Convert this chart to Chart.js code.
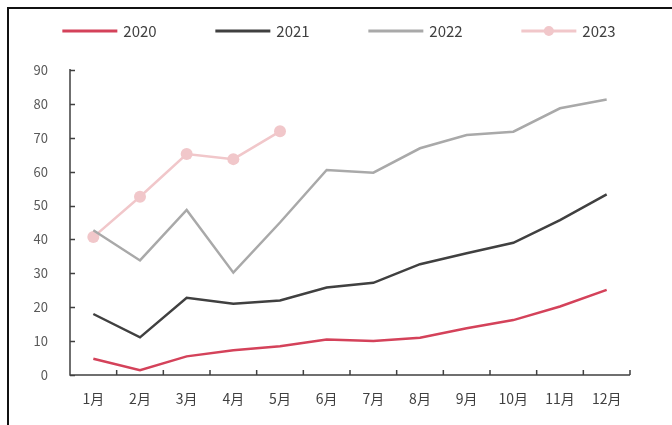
<!DOCTYPE html>
<html>
<head>
<meta charset="utf-8">
<script src="https://cdn.jsdelivr.net/npm/chart.js@4.4.0/dist/chart.umd.min.js"></script>
<style>
html,body{margin:0;padding:0;background:#fff;}
#wrap{position:relative;width:672px;height:425px;}
#frame{position:absolute;left:7px;top:7px;right:-10px;bottom:-10px;border-left:2px solid #111;border-top:2px solid #111;pointer-events:none;}
canvas{position:absolute;left:0;top:0;}
</style>
</head>
<body>
<div id="wrap"><canvas id="c" width="672" height="425"></canvas><div id="frame"></div></div>
<script>
const categories = ['1月','2月','3月','4月','5月','6月','7月','8月','9月','10月','11月','12月'];
const seriesNames = ['2020','2021','2022','2023'];
const s2020 = [4.8, 1.4, 5.5, 7.3, 8.5, 10.5, 10.0, 11.0, 13.8, 16.2, 20.2, 25.1];
const s2021 = [18.0, 11.1, 22.8, 21.0, 22.0, 25.8, 27.2, 32.7, 35.9, 39.0, 45.7, 53.3];
const s2022 = [42.7, 33.8, 48.7, 30.2, 45.0, 60.5, 59.7, 66.9, 70.8, 71.8, 78.7, 81.3];
const s2023 = [40.7, 52.6, 65.2, 63.7, 71.9];
const yTicks = [0,10,20,30,40,50,60,70,80,90];

const colors = ['#d4425a', '#404040', '#a9a9a9', '#f1c7ca'];
const FONT = '"Noto Sans CJK SC", "Noto Sans", sans-serif';

const customDecor = {
  id: 'customDecor',
  afterDatasetsDraw(chart) {
    const ctx = chart.ctx;
    const x = chart.scales.x, y = chart.scales.y;
    ctx.save();
    ctx.strokeStyle = '#404040';
    ctx.lineWidth = 1.5;
    ctx.beginPath();
    ctx.moveTo(x.left, y.top - 1);
    ctx.lineTo(x.left, y.bottom);
    ctx.lineTo(x.right, y.bottom);
    yTicks.forEach(v => {
      const py = Math.round(y.getPixelForValue(v)) + 0.5;
      ctx.moveTo(x.left, py); ctx.lineTo(x.left + 5, py);
    });
    const step = x.getPixelForValue(1) - x.getPixelForValue(0);
    for (let i = 0; i <= categories.length; i++) {
      const px = (i < categories.length) ? x.getPixelForValue(i) - step / 2 : x.right;
      ctx.moveTo(px, y.bottom); ctx.lineTo(px, y.bottom - 5);
    }
    ctx.stroke();
    ctx.restore();
  },
  afterDraw(chart) {
    const ctx = chart.ctx;
    ctx.save();
    ctx.font = '15px ' + FONT;
    ctx.textBaseline = 'middle';
    const lineW = 55, gap = 6, pitch = 153, cy = 31;
    const lastW = lineW + gap + ctx.measureText(seriesNames[3]).width;
    const total = pitch * 3 + lastW;
    let sx = 339 - total / 2;
    seriesNames.forEach((name, i) => {
      const x0 = sx + i * pitch;
      ctx.strokeStyle = colors[i];
      ctx.lineWidth = 3;
      ctx.beginPath();
      ctx.moveTo(x0, cy); ctx.lineTo(x0 + lineW, cy);
      ctx.stroke();
      if (i === 3) {
        ctx.fillStyle = colors[i];
        ctx.beginPath();
        ctx.arc(x0 + lineW / 2, cy, 5, 0, Math.PI * 2);
        ctx.fill();
      }
      ctx.fillStyle = '#404040';
      ctx.textAlign = 'left';
      ctx.fillText(name, x0 + lineW + gap, cy);
    });
    ctx.restore();
  }
};

const mk = (i, data, point) => ({
  label: seriesNames[i],
  data: data,
  borderColor: colors[i],
  backgroundColor: colors[i],
  borderWidth: 2.5,
  pointRadius: point ? 6 : 0,
  pointHoverRadius: point ? 6 : 0,
  pointBackgroundColor: colors[i],
  pointBorderWidth: 0,
  tension: 0,
  fill: false
});

new Chart(document.getElementById('c'), {
  type: 'line',
  data: {
    labels: categories,
    datasets: [mk(0, s2020), mk(1, s2021), mk(2, s2022), mk(3, s2023, true)]
  },
  plugins: [customDecor],
  options: {
    responsive: false,
    animation: false,
    layout: { padding: { left: 0, right: 42, top: 70, bottom: 0 } },
    plugins: {
      tooltip: { enabled: false },
      legend: { display: false }
    },
    scales: {
      x: {
        type: 'category',
        offset: true,
        grid: { display: false, drawTicks: false },
        border: { display: false },
        ticks: { color: '#404040', font: { family: FONT, size: 14 }, padding: 15, maxRotation: 0, autoSkip: false },
        afterFit(s) { s.height = 50; }
      },
      y: {
        min: 0, max: 90,
        grid: { display: false, drawTicks: false },
        border: { display: false },
        ticks: { stepSize: 10, color: '#595959', font: { family: FONT, size: 13 }, padding: 22 },
        afterFit(s) { s.width = 70; }
      }
    }
  }
});
</script>
</body>
</html>
